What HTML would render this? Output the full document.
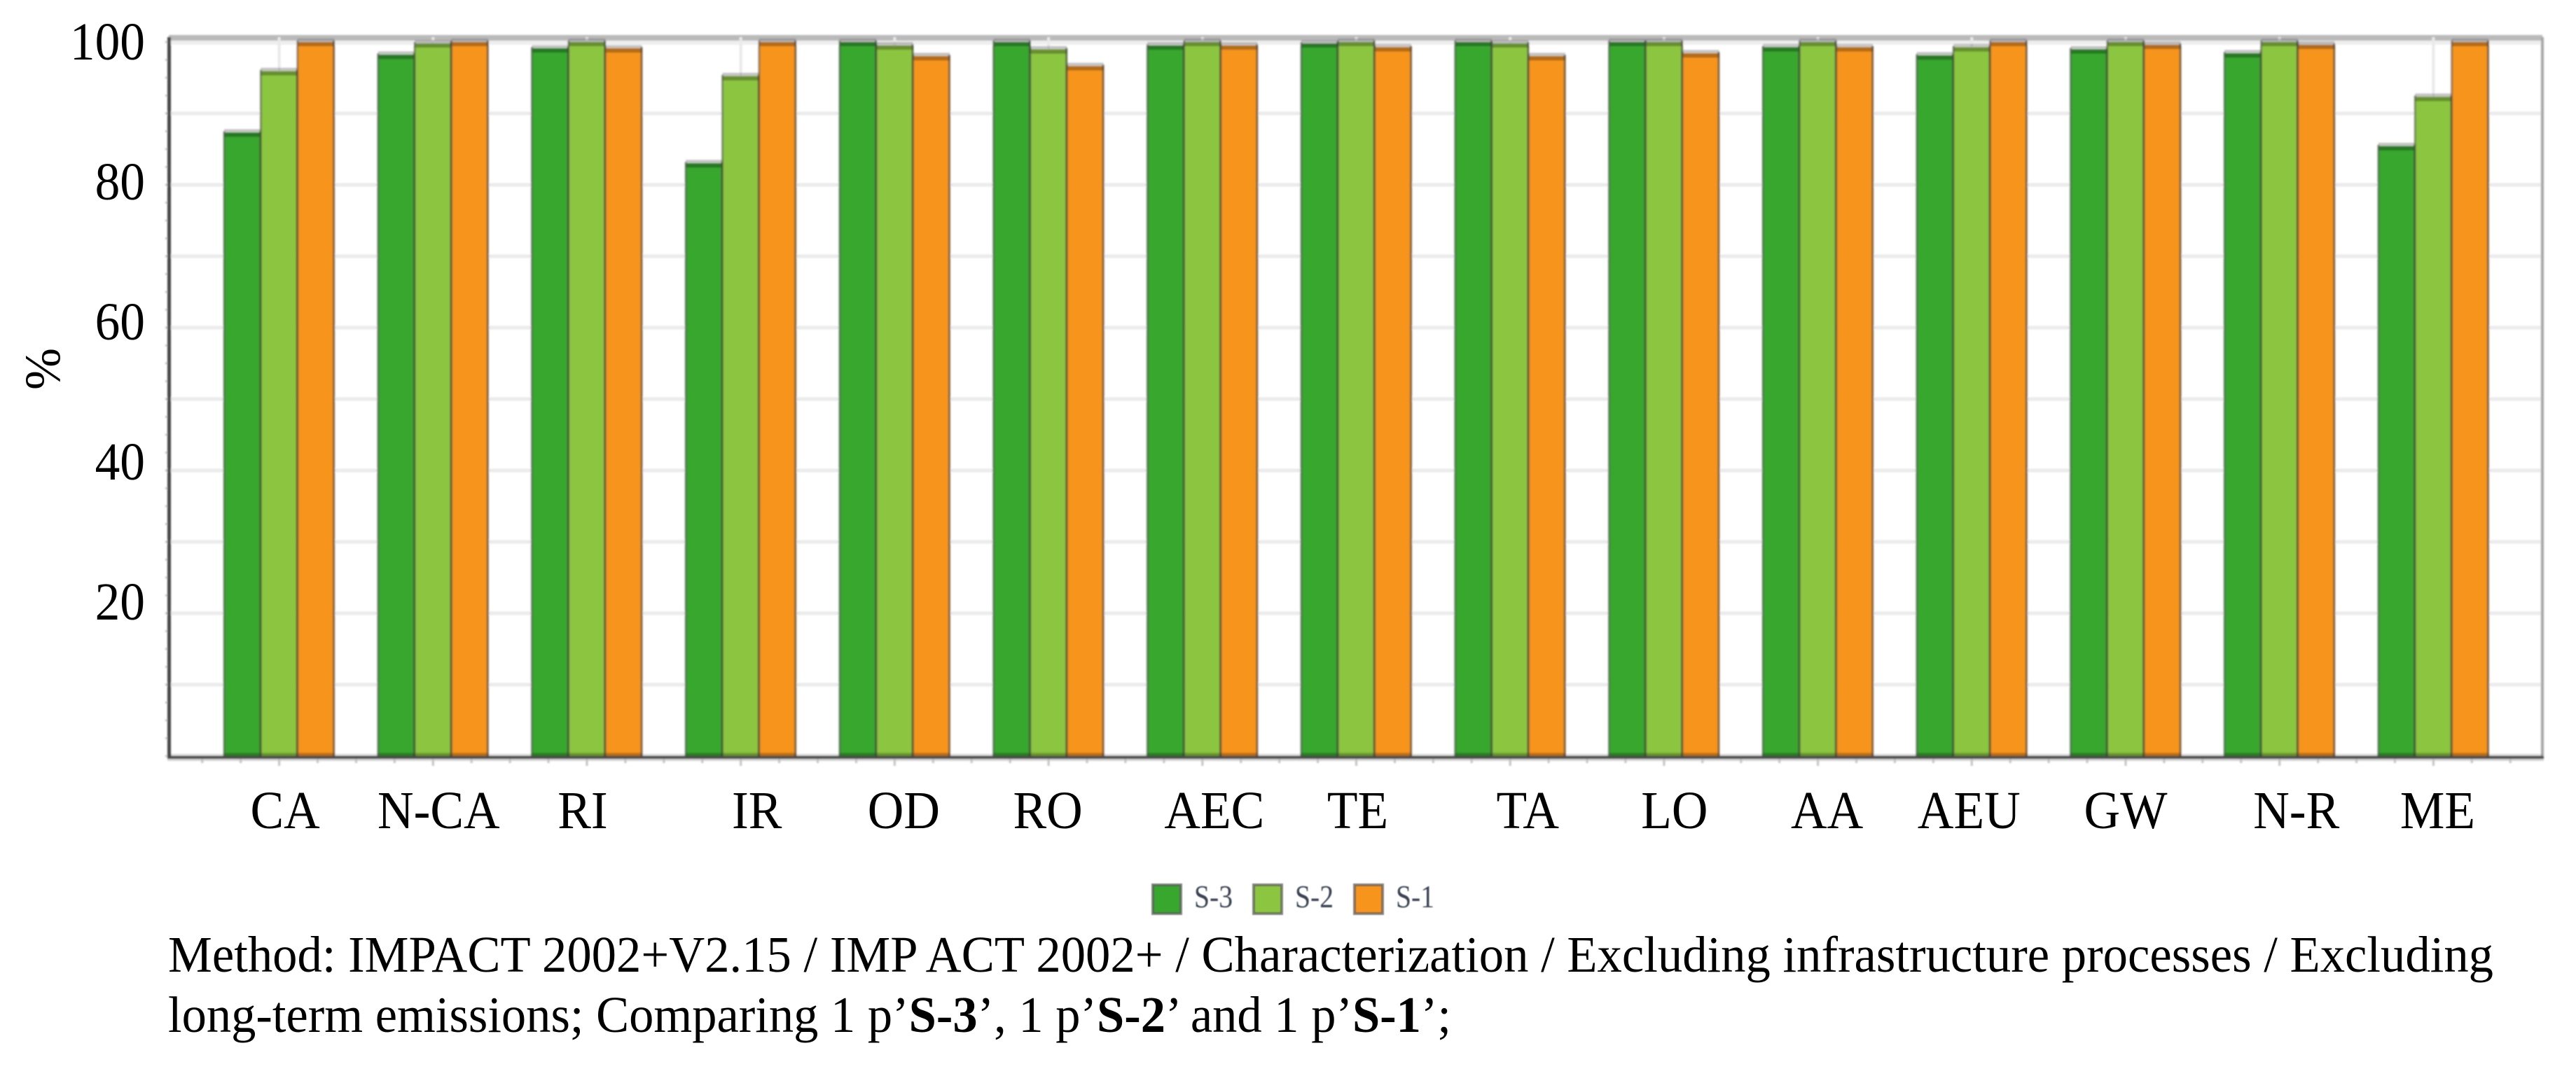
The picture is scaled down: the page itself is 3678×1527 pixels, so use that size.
<!DOCTYPE html>
<html lang="en">
<head>
<meta charset="utf-8">
<title>IMPACT 2002+ characterization comparison</title>
<style>
  html, body { margin: 0; padding: 0; background: #ffffff; }
  svg { display: block; }
  text { font-family: "Liberation Serif", "Times New Roman", serif; fill: #000; }
</style>
</head>
<body>
<svg id="chart" xmlns="http://www.w3.org/2000/svg" width="3678" height="1527" viewBox="0 0 3678 1527">
  <defs>
    <filter id="soft" x="-2%" y="-2%" width="104%" height="104%"><feGaussianBlur stdDeviation="1.1"/></filter>
    <filter id="softer" x="-10%" y="-10%" width="120%" height="120%"><feGaussianBlur stdDeviation="0.9"/></filter>
  </defs>
  <g id="plot" filter="url(#soft)"></g>
  <g id="tick-labels"></g>
  <text transform="translate(85,557) rotate(-90)" font-size="72">%</text>
  <g id="legend"></g>
  <text x="240" y="1388" font-size="73" textLength="3320" lengthAdjust="spacingAndGlyphs">Method: IMPACT 2002+V2.15 / IMP ACT 2002+ / Characterization / Excluding infrastructure processes / Excluding</text>
  <text x="240" y="1474" font-size="73" textLength="1832" lengthAdjust="spacingAndGlyphs">long-term emissions; Comparing 1 p’<tspan font-weight="bold">S-3</tspan>’, 1 p’<tspan font-weight="bold">S-2</tspan>’ and 1 p’<tspan font-weight="bold">S-1</tspan>’;</text>
</svg>
<script>
const categories = ["CA","N-CA","RI","IR","OD","RO","AEC","TE","TA","LO","AA","AEU","GW","N-R","ME"];
const seriesNames = ["S-3","S-2","S-1"];
const s3Values = [87.3,98.2,99.1,83.0,100,100,99.5,99.8,100,100,99.25,98.1,98.95,98.4,85.4];
const s2Values = [95.9,99.8,100,95.2,99.5,98.95,100,100,99.8,100,100,99.25,100,100,92.3];
const s1Values = [100,100,99.1,100,98.0,96.6,99.5,99.25,98.0,98.4,99.25,100,99.6,99.6,100];
const yTickLabels = [100,80,60,40,20];
const yGridValues = [10,20,30,40,50,60,70,80,90];

const SVG_NS = "http://www.w3.org/2000/svg";
function make(tag, parent, attrs) {
  const el = document.createElementNS(SVG_NS, tag);
  for (const k in attrs) el.setAttribute(k, attrs[k]);
  parent.appendChild(el);
  return el;
}

const PLOT_LEFT = 241, PLOT_RIGHT = 3630, PLOT_TOP = 53, BASE_Y = 1080;
const UNIT_H = 10.2, GROUP_STEP = 219.7, FIRST_GROUP = 320, BAR_W = 52.4;
function yScale(v) { return BASE_Y - UNIT_H * v; }
function yLabelBaseline(v) { return 85 + (100 - v) * 10; }
function groupLeft(i) { return FIRST_GROUP + GROUP_STEP * i; }
function groupCenter(i) { return groupLeft(i) + BAR_W * 1.5; }

const plot = document.getElementById("plot");
const labels = document.getElementById("tick-labels");
const legend = document.getElementById("legend");
const seriesValues = [s3Values, s2Values, s1Values];
const seriesColors = ["#37a72f", "#8cc63f", "#f7941e"];

/* frame */
const topBand = make("rect", plot, {x: PLOT_LEFT, y: 50, width: PLOT_RIGHT - PLOT_LEFT, height: 8, fill: "#b9b9b9"});


const topSoft = make("rect", plot, {x: PLOT_LEFT, y: 58, width: PLOT_RIGHT - PLOT_LEFT, height: 6, fill: "#efefef"});



/* gridlines */
yGridValues.forEach(function (v) {
  const g = make("rect", plot, {x: 237, y: yScale(v) - 2.5, width: PLOT_RIGHT - 237, height: 5, fill: "#ebebeb"});
  
  
});
categories.forEach(function (c, i) {
  const g = make("rect", plot, {x: groupCenter(i) - 2, y: PLOT_TOP, width: 4, height: BASE_Y - PLOT_TOP, fill: "#e9e9e9"});
  
  
});

/* y minor ticks */
for (let v = 0; v <= 100; v += 2.5) {
  const t = make("rect", plot, {x: 236, y: yScale(v) - 1.5, width: 5, height: 3, fill: "#c4c4c4"});
  
  
}

/* bars */
categories.forEach(function (cat, i) {
  seriesValues.forEach(function (vals, s) {
    const x = groupLeft(i) + BAR_W * s;
    const top = yScale(vals[i]);
    const bar = make("g", plot, {});
    
    
    const ghost = make("rect", bar, {x: x, y: top - 5, width: BAR_W, height: 5, fill: "#606060", "fill-opacity": "0.38"});
    
    
    const fill = make("rect", bar, {x: x, y: top, width: BAR_W, height: BASE_Y - top, fill: seriesColors[s]});
    
    
    const cap = make("rect", bar, {x: x, y: top, width: BAR_W, height: 6, fill: "#000", "fill-opacity": "0.27"});
    
    
    const foot = make("rect", bar, {x: x, y: BASE_Y - 5, width: BAR_W, height: 5, fill: "#000", "fill-opacity": "0.16"});
    
    
    const leftEdge = make("rect", bar, {x: x - 1.5, y: top - 2, width: 3, height: BASE_Y - top + 2, fill: "#444", "fill-opacity": "0.55"});
    
    
    const rightEdge = make("rect", bar, {x: x + BAR_W - 2, y: top - 2, width: 3, height: BASE_Y - top + 2, fill: "#333", "fill-opacity": "0.62"});
    
    
  });
});

/* axes lines */
const leftAxis = make("rect", plot, {x: PLOT_LEFT - 2, y: PLOT_TOP, width: 5, height: BASE_Y - PLOT_TOP + 3, fill: "#474747"});


const rightAxis = make("rect", plot, {x: PLOT_RIGHT - 2, y: PLOT_TOP, width: 4, height: BASE_Y - PLOT_TOP + 3, fill: "#a6a6a6"});


const baseSoft = make("rect", plot, {x: PLOT_LEFT, y: BASE_Y - 3, width: PLOT_RIGHT - PLOT_LEFT, height: 3, fill: "#000", "fill-opacity": "0.15"});


const baseLine = make("rect", plot, {x: PLOT_LEFT - 2, y: BASE_Y, width: PLOT_RIGHT - PLOT_LEFT + 4, height: 4, fill: "#4a4a4a"});


const baseShadow = make("rect", plot, {x: PLOT_LEFT - 2, y: BASE_Y + 4, width: PLOT_RIGHT - PLOT_LEFT + 4, height: 3, fill: "#d6d6d6"});



/* x ticks: four per group */
const TICK_STEP = GROUP_STEP / 4;
for (let j = -2; j <= (categories.length - 1) * 4 + 2; j++) {
  const major = ((j % 4) + 4) % 4 === 0;
  const t = make("rect", plot, {x: groupCenter(0) + TICK_STEP * j - 1.5, y: BASE_Y + 4, width: 3, height: major ? 10 : 6, fill: "#c2c2c2"});
  
  
}

/* tick labels: tall, slightly condensed glyphs as in the source figure */
yTickLabels.forEach(function (v) {
  const t = make("text", labels, {transform: "translate(207," + yLabelBaseline(v) + ") scale(0.94,1)", "font-size": 76, "text-anchor": "end"});
  t.textContent = String(v);
  
  
});
(function drawCategoryLabels() {
  const labelNudge = [8.5, 8, -6, 23, 13, -1, 17, 2, 25, 15, 13, -4, 0, 24, 6];
  categories.forEach(function (c, i) {
    const t = make("text", labels, {transform: "translate(" + (groupCenter(i) + labelNudge[i]) + ",1183) scale(0.94,1)", "font-size": 76, "text-anchor": "middle"});
    t.textContent = c;
    
    
  });
})();

/* legend */
const LEGEND_X = 1644, LEGEND_STEP = 144;
seriesNames.forEach(function (name, s) {
  const x = LEGEND_X + LEGEND_STEP * s;
  const entry = make("g", legend, {filter: "url(#softer)"});
  
  
  const sw = make("rect", entry, {x: x + 2, y: 1264, width: 40, height: 41, fill: seriesColors[s], stroke: "#555", "stroke-opacity": "0.7", "stroke-width": 4});
  
  
  const txt = make("text", entry, {x: x + 61, y: 1296, "font-size": 46, textLength: 55, lengthAdjust: "spacingAndGlyphs", style: "fill:#3a4452"});
  txt.textContent = name;
  
  
});
</script>
</body>
</html>
